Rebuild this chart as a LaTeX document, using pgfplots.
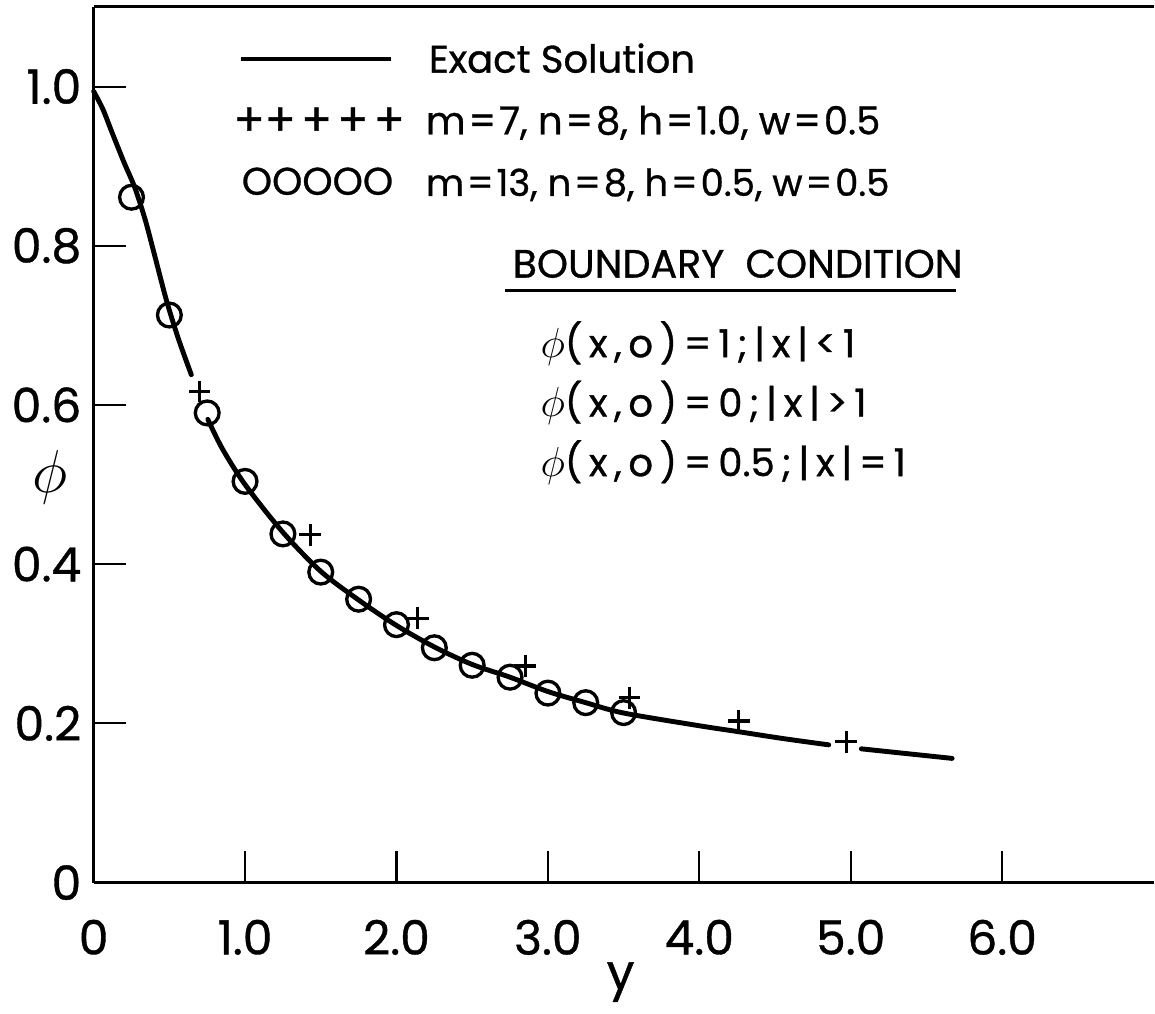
\documentclass[border=0pt]{standalone}
\usepackage{fontspec}
\setmainfont{Poppins}[FakeBold=0.8]
\usepackage{pgfplots}
\pgfplotsset{compat=1.18}
\newcommand\s{\kern1.9pt}
\newcommand\e{\kern0.8pt}

% exact solution, drawn in three pieces (gaps as in the original)
\pgfplotstableread{
x y
0.000 0.994
0.060 0.972
0.118 0.944
0.200 0.905
0.272 0.873
0.340 0.833
0.400 0.790
0.480 0.732
0.560 0.683
0.645 0.638
}\exactA
\pgfplotstableread{
x y
0.754 0.582
0.850 0.545
1.000 0.500
1.250 0.440
1.500 0.391
1.750 0.355
2.000 0.323
2.250 0.296
2.500 0.274
2.750 0.258
3.000 0.240
3.250 0.226
3.500 0.213
4.000 0.197
4.260 0.1895
4.550 0.181
4.855 0.173
}\exactB
\pgfplotstableread{
x y
5.070 0.168
5.320 0.163
5.670 0.156
}\exactC
% m=7, n=8, h=1.0
\pgfplotstableread{
x y
0.700 0.617
1.430 0.437
2.140 0.332
2.850 0.272
3.540 0.232
4.260 0.203
4.970 0.177
}\crosses
% m=13, n=8, h=0.5
\pgfplotstableread{
x y
0.25 0.861
0.50 0.713
0.75 0.590
1.00 0.504
1.25 0.438
1.50 0.390
1.75 0.356
2.00 0.324
2.25 0.295
2.50 0.273
2.75 0.258
3.00 0.238
3.25 0.226
3.50 0.2135
}\circles

\begin{document}
\begin{tikzpicture}
\begin{axis}[
    scale only axis,
    width=10.64cm, height=8.79cm,
    xmin=0, xmax=7, ymin=0, ymax=1.1,
    axis lines=left,
    axis line style={-, line width=0.85pt},
    clip=false,
    tick align=inside,
    major tick length=0.32cm,
    tick style={line width=0.6pt, black},
    xtick={0,1,2,3,4,5,6},
    xticklabels={0,1.0,2.0,3.0,4.0,5.0,6.0},
    ytick={0,0.2,0.4,0.6,0.8,1.0},
    yticklabels={0,0.2,0.4,0.6,0.8,1.0},
    x tick label style={font=\fontsize{13.5}{15}\selectfont, yshift=-0.25cm},
    y tick label style={font=\fontsize{13.5}{15}\selectfont},
]
\addplot[black, line width=1.4pt, smooth, line cap=round] table {\exactA};
\addplot[black, line width=1.4pt, smooth, line cap=round] table {\exactB};
\addplot[black, line width=1.4pt, smooth, line cap=round] table {\exactC};
\addplot[only marks, mark=+, mark size=3.1pt, mark options={line width=0.9pt, black}] table {\crosses};
\addplot[only marks, mark=o, mark size=3.4pt, mark options={line width=0.95pt, black, fill=white}] table {\circles};

% top frame line
\draw[line width=0.85pt] (rel axis cs:0,1) -- (rel axis cs:1,1);

% axis titles
\node[font=\fontsize{14}{16}\selectfont] at ([yshift=-1.0cm]axis cs:3.48,0) {y};
\node[font=\fontsize{18}{20}\selectfont] at ([xshift=-0.44cm]axis cs:0,0.509) {$\phi$};

% legend
\draw[line width=1.2pt] (axis cs:0.974,1.035) -- (axis cs:1.961,1.035);
\node[anchor=base west, font=\fontsize{11}{13}\selectfont, inner sep=0pt] at (axis cs:2.21,1.0175) {Exact Solution};
\node[anchor=west, font=\fontsize{13}{14}\selectfont, inner sep=0pt] at (axis cs:0.92,0.956) {++\kern1.5pt+\kern1.5pt+\kern1.5pt+};
\node[anchor=base west, font=\fontsize{11}{13}\selectfont, inner sep=0pt] at (axis cs:2.19,0.940) {m\e=\e7, n\e=\e8, h\e=\e1.0, w\e=\e0.5};
\node[anchor=west, font=\fontsize{11}{13}\selectfont, inner sep=0pt] at (axis cs:0.974,0.881) {OOOOO};
\node[anchor=base west, font=\fontsize{10.6}{13}\selectfont, inner sep=0pt] at (axis cs:2.19,0.8627) {m\e=\e13, n\e=\e8, h\e=\e0.5, w\e=\e0.5};

% boundary condition block
\node[anchor=base west, font=\fontsize{11.3}{13}\selectfont, inner sep=0pt] at (axis cs:2.763,0.760) {BOUNDARY\ \ CONDITION};
\draw[line width=0.85pt] (axis cs:2.717,0.744) -- (axis cs:5.697,0.744);
\node[anchor=base west, font=\fontsize{11}{13}\selectfont, inner sep=0pt] at (axis cs:2.947,0.660) {{\large$\phi$}(\s x\s,\s o\s)\s=\s1\s;\s|\s x\s|\s<\s1};
\node[anchor=base west, font=\fontsize{11}{13}\selectfont, inner sep=0pt] at (axis cs:2.947,0.5855) {{\large$\phi$}(\s x\s,\s o\s)\s=\s0\s;\s|\s x\s|\s>\s1};
\node[anchor=base west, font=\fontsize{11}{13}\selectfont, inner sep=0pt] at (axis cs:2.947,0.5106) {{\large$\phi$}(\s x\s,\s o\s)\s=\s0.5\s;\s|\s x\s|\s=\s1};

% keep the margins of the original
\path (rel axis cs:0,1) ++(-0.92cm,0.07cm);
\path (rel axis cs:0,0) ++(0,-1.14cm);
\end{axis}
\end{tikzpicture}
\end{document}
